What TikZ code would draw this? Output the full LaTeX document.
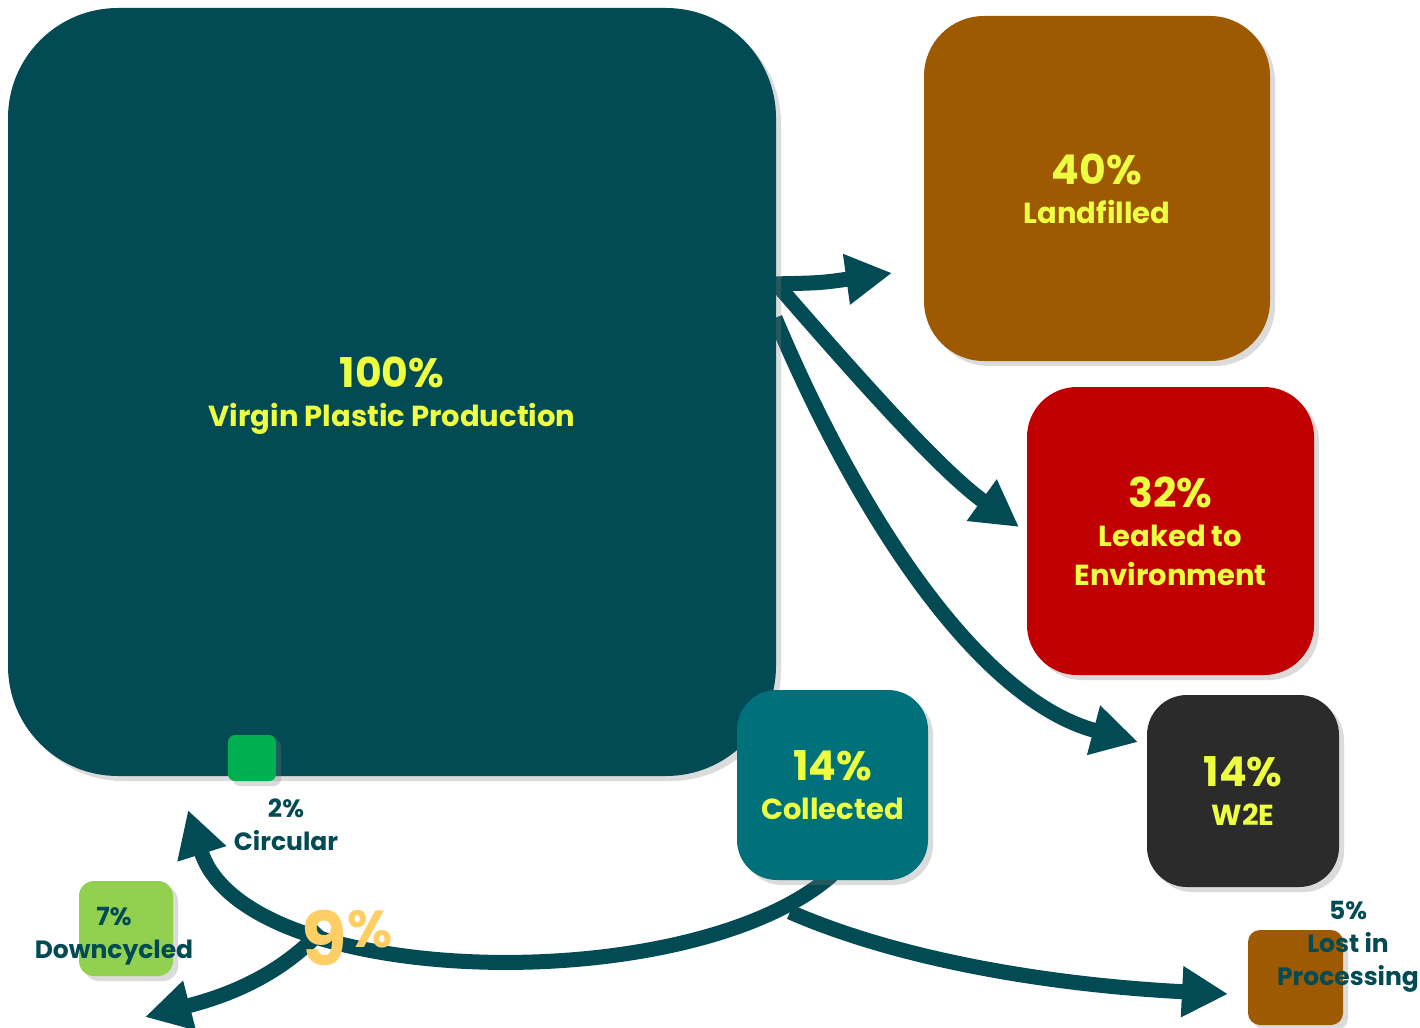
\documentclass[tikz,border=0pt]{standalone}
\usepackage{fontspec}
\setmainfont{Poppins}
\usetikzlibrary{arrows.meta,shadows}
\definecolor{dteal}{RGB}{2,75,85}
\definecolor{cteal}{RGB}{0,113,123}
\definecolor{brownish}{RGB}{158,90,0}
\definecolor{dred}{RGB}{192,0,0}
\definecolor{dgray}{RGB}{43,43,43}
\definecolor{bgreen}{RGB}{0,176,80}
\definecolor{lgreen}{RGB}{146,208,80}
\definecolor{ylw}{RGB}{238,255,65}
\definecolor{orng}{RGB}{255,207,102}
\tikzset{
  box/.style={draw=none, inner sep=0pt, align=center, text=ylw,
    font=\fontsize{29}{39}\selectfont\bfseries,
    drop shadow={shadow xshift=5pt, shadow yshift=-5pt, opacity=0.28}},
  boxtext/.style={inner sep=0pt, align=center, text=ylw,
    font=\fontsize{29}{39}\selectfont\bfseries},
  lbl/.style={inner sep=0pt, align=center, text=dteal,
    font=\fontsize{25}{33}\selectfont\bfseries},
  flow/.style={draw=dteal, line width=15pt,
    -{Triangle[length=46pt,width=48pt]}}
}
\begin{document}
\begin{tikzpicture}[x=1pt,y=-1pt]
\useasboundingbox (0,0) rectangle (1420,1027);
\fill[white] (0,0) rectangle (1420,1027);
% connector end points
\coordinate (a1s) at (770,284);
\coordinate (a1e) at (892,273);
\coordinate (a2s) at (780,288);
\coordinate (a2e) at (1019,527);
\coordinate (a3s) at (775,318);
\coordinate (a3e) at (1138,742);
\coordinate (cs) at (832,875);
\coordinate (ce) at (188,810);
\coordinate (ds) at (322,930);
\coordinate (de) at (145,1017);
\coordinate (ls) at (790,912);
\coordinate (le) at (1228,994);
% connectors
\draw[flow] (a1s) .. controls (820,283) .. (a1e);
\draw[flow] (a2s) .. controls (860,380) and (940,470) .. (a2e);
\draw[flow] (a3s) .. controls (860,520) and (980,700) .. (a3e);
\draw[flow] (cs) .. controls (690,1000) and (245,990) .. (ce);
\draw[flow] (ds) .. controls (280,975) and (230,995) .. (de);
\draw[flow] (ls) .. controls (900,960) and (1050,985) .. (le);
% boxes
\node[box, fill=dteal, minimum width=768pt, minimum height=768pt, rounded corners=110pt] (vpp) at (392,392) {};
\node[boxtext] (vpptext) at ([yshift=-4pt]vpp.center)
  {{\fontsize{41}{41}\selectfont 100\%}\\Virgin Plastic Production};
\node[box, fill=brownish, minimum width=346pt, minimum height=345pt, rounded corners=60pt] (land) at (1097,188.5)
  {{\fontsize{41}{41}\selectfont 40\%}\\Landfilled};
\node[box, fill=dred, minimum width=287pt, minimum height=288pt, rounded corners=50pt] (leak) at (1170.5,531)
  {{\fontsize{41}{41}\selectfont 32\%}\\Leaked to\\Environment};
\node[box, fill=dgray, minimum width=192pt, minimum height=192pt, rounded corners=40pt] (w2e) at (1243,791)
  {{\fontsize{41}{41}\selectfont 14\%}\\W2E};
\node[box, fill=cteal, minimum width=191pt, minimum height=190pt, rounded corners=40pt] (coll) at (832.5,785)
  {{\fontsize{41}{41}\selectfont 14\%}\\Collected};
\node[box, fill=bgreen, minimum width=48pt, minimum height=46pt, rounded corners=7pt] (circbox) at (252,758) {};
\node[box, fill=lgreen, minimum width=94pt, minimum height=95pt, rounded corners=15pt] (downbox) at (126,928.5) {};
\node[box, fill=brownish, minimum width=95pt, minimum height=95pt, rounded corners=12pt] (lostbox) at (1295.5,977.5) {};
% outside labels
\node[lbl] (circ) at (286,825) {2\%\\Circular};
\node[lbl] (down) at (114,936) {7\%\\Downcycled};
\node[lbl] (lost) at (1348,947) {5\%\\Lost in\\Processing};
\node[inner sep=0pt, text=orng, font=\bfseries] (nine) at (347,938)
  {\fontsize{74}{74}\selectfont 9\raisebox{18pt}{\fontsize{52}{52}\selectfont\%}};
\end{tikzpicture}
\end{document}
